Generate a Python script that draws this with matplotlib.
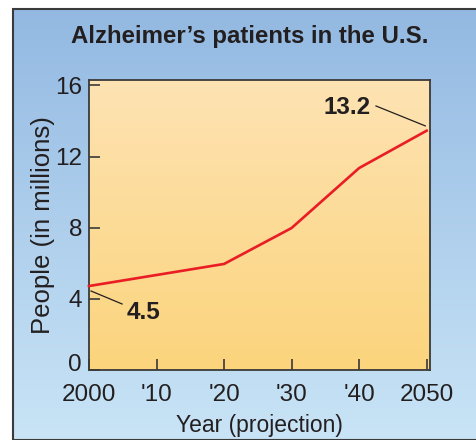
import numpy as np
import matplotlib.pyplot as plt
from matplotlib.patches import Rectangle
from matplotlib.transforms import ScaledTranslation

plt.rcParams['font.family'] = ['Liberation Sans', 'DejaVu Sans']

years = [2000, 2010, 2020, 2030, 2040, 2050]
patients = [4.72, 5.34, 5.96, 7.98, 11.35, 13.45]
tick_labels = ['2000', "'10", "'20", "'30", "'40", '2050']
y_ticks = [0, 4, 8, 12, 16]

W, H = 477, 440
fig = plt.figure(figsize=(W / 100, H / 100), dpi=100)

# blue panel behind everything
bg = fig.add_axes([13 / W, 0, 1 - 13 / W, (H - 9) / H])
grad = np.linspace(0, 1, 256).reshape(-1, 1)
top_c = np.array([0x93, 0xb9, 0xe2]) / 255
bot_c = np.array([0xc9, 0xe4, 0xf6]) / 255
img = top_c + (bot_c - top_c) * grad[..., None]
bg.imshow(img, aspect='auto', extent=[0, 1, 0, 1], origin='upper')
bg.set_xlim(0, 1)
bg.set_ylim(0, 1)
bg.axis('off')
bg.add_patch(Rectangle((0, 0), 1.2, 1, transform=bg.transAxes, fill=False,
                       ec='#3a3a3a', lw=1.5, clip_on=False))

ax = fig.add_axes([89 / W, (H - 370) / H, (430 - 89) / W, (370 - 80) / H])
ax.set_facecolor('none')
top_o = np.array([0xfe, 0xe3, 0xb3]) / 255
bot_o = np.array([0xfb, 0xd4, 0x7c]) / 255
img2 = top_o + (bot_o - top_o) * grad[..., None]
ax.imshow(img2, aspect='auto', extent=[0, 1, 0, 1], origin='upper',
          transform=ax.transAxes, zorder=0)

ax.plot(years, patients, color='#ea1c24', lw=1.9, zorder=3, clip_on=False)
ax.set_xlim(2000, 2050.5)
ax.set_ylim(0, 16.3)
ax.set_xticks(years)
ax.set_xticklabels(tick_labels)
ax.set_yticks(y_ticks)
ax.tick_params(direction='in', length=8, width=1.2, color='#3a3a3a',
               labelsize=17.5, labelcolor='#231f20')
ax.tick_params(axis='x', pad=10)
ax.tick_params(axis='y', pad=5)
for s in ax.spines.values():
    s.set_color('#3a3a3a')
    s.set_linewidth(1.3)

# the "0" sits a little above its tick in the original
zero_lbl = ax.get_yticklabels()[0]
zero_lbl.set_transform(zero_lbl.get_transform() +
                       ScaledTranslation(0, 8 / 100, fig.dpi_scale_trans))

ax.set_xlabel('Year (projection)', fontsize=16.5, color='#231f20', labelpad=6)
ax.set_ylabel('People (in millions)', fontsize=18.5, color='#231f20', labelpad=0)

# callouts
ax.plot([2000.3, 2004.9], [4.44, 3.71], color='#231f20', lw=0.9, zorder=4)
ax.text(2008.0, 3.26, '4.5', fontsize=17.5, fontweight='bold', color='#231f20',
        ha='center', va='center')
ax.plot([2042.5, 2049.8], [14.84, 13.72], color='#231f20', lw=0.9, zorder=4)
ax.text(2038.2, 14.78, '13.2', fontsize=17.5, fontweight='bold', color='#231f20',
        ha='center', va='center')

fig.text(250 / W, 1 - 37 / H, 'Alzheimer\u2019s patients in the U.S.', fontsize=17.3,
         fontweight='bold', color='#231f20', ha='center', va='center')

fig.savefig('out.png', dpi=100)
